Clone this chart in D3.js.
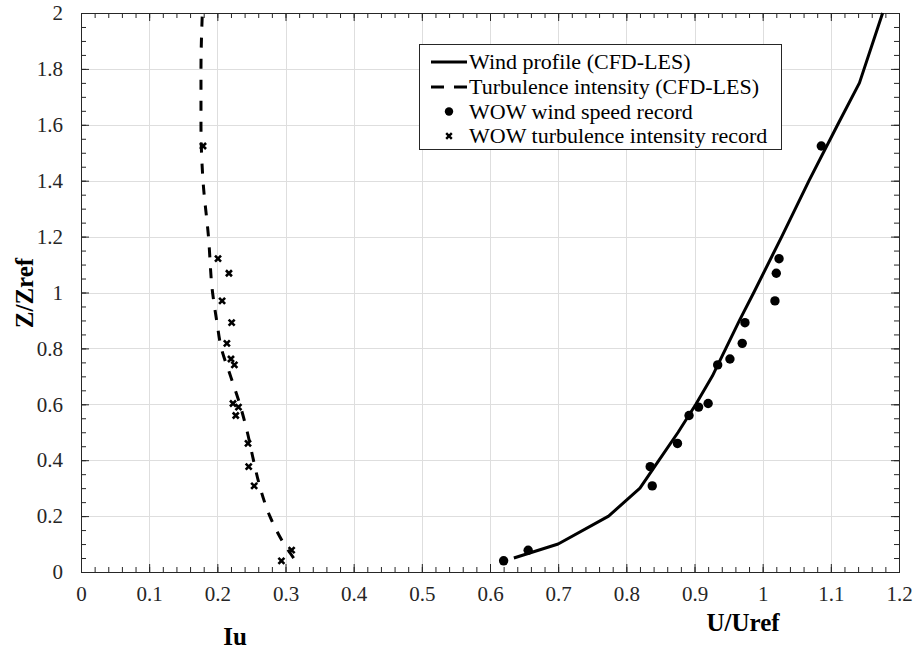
<!DOCTYPE html>
<html>
<head>
<meta charset="utf-8">
<script src="https://cdn.jsdelivr.net/npm/d3@7"></script>
<style>
  html, body { margin: 0; padding: 0; background: #fff; }
  text { font-family: "Liberation Serif" !important; }
</style>
</head>
<body>
<svg id="chart" width="917" height="650"></svg>
<script>
// Tick values
const xTicks = [0, 0.1, 0.2, 0.3, 0.4, 0.5, 0.6, 0.7, 0.8, 0.9, 1, 1.1, 1.2];
const yTicks = [0, 0.2, 0.4, 0.6, 0.8, 1, 1.2, 1.4, 1.6, 1.8, 2];

// CFD-LES wind profile (U/Uref vs Z/Zref)
const cfdHeight = [0.05, 0.1, 0.2, 0.3, 0.4, 0.5, 0.6, 0.7, 0.8, 0.9, 1.0, 1.2, 1.4, 1.6, 1.75, 2.0];
const cfdWind   = [0.635, 0.700, 0.774, 0.820, 0.848, 0.876, 0.902, 0.926, 0.946, 0.966, 0.987, 1.028, 1.068, 1.110, 1.142, 1.176];

// CFD-LES turbulence intensity profile
const cfdIuHeight = [0.05, 0.1, 0.2, 0.3, 0.4, 0.5, 0.6, 0.7, 0.8, 0.9, 1.0, 1.2, 1.4, 1.6, 1.8, 2.0];
const cfdIu       = [0.312, 0.298, 0.277, 0.263, 0.253, 0.244, 0.233, 0.2195, 0.206, 0.199, 0.193, 0.187, 0.179, 0.176, 0.176, 0.178];

// WOW station records
const wowHeight = [0.04, 0.078, 0.308, 0.377, 0.46, 0.56, 0.59, 0.603, 0.741, 0.762, 0.818, 0.892, 0.97, 1.069, 1.121, 1.524];
const wowWind   = [0.620, 0.656, 0.838, 0.835, 0.875, 0.892, 0.906, 0.920, 0.934, 0.952, 0.970, 0.974, 1.018, 1.020, 1.024, 1.086];
const wowIu     = [0.294, 0.309, 0.254, 0.246, 0.245, 0.227, 0.231, 0.223, 0.225, 0.220, 0.214, 0.221, 0.207, 0.217, 0.201, 0.179];

const legendLabels = [
  "Wind profile (CFD-LES)",
  "Turbulence intensity (CFD-LES)",
  "WOW wind speed record",
  "WOW turbulence intensity record"
];

const svg = d3.select("#chart");
const L = 81, R = 899, T = 13, B = 572;

const x = d3.scaleLinear().domain([0, 1.2]).range([L, R]);
const y = d3.scaleLinear().domain([0, 2]).range([B, T]);

// Grid
const grid = svg.append("g").attr("stroke", "#dedede").attr("stroke-width", 1);
grid.selectAll("line.gx").data(xTicks.slice(1, -1)).join("line")
  .attr("x1", d => Math.round(x(d)) + 0.5).attr("x2", d => Math.round(x(d)) + 0.5)
  .attr("y1", T).attr("y2", B);
grid.selectAll("line.gy").data(yTicks.slice(1, -1)).join("line")
  .attr("y1", d => Math.round(y(d)) + 0.5).attr("y2", d => Math.round(y(d)) + 0.5)
  .attr("x1", L).attr("x2", R);

// Axes: major ticks with labels, minor ticks without, all pointing inward
const xMinor = d3.range(0, 1.2001, 0.02);
const yMinor = d3.range(0, 2.0001, 0.05);

function styleAxis(g) {
  g.attr("font-family", "Liberation Serif").attr("font-size", 21);
  g.select(".domain").attr("stroke", "#262626").attr("stroke-width", 1);
  g.selectAll(".tick line").attr("stroke", "#262626").attr("stroke-width", 1);
  g.selectAll("text").attr("fill", "#262626");
}

svg.append("g").attr("transform", `translate(0,${B})`)
  .call(d3.axisBottom(x).tickValues(xMinor).tickSize(-5).tickFormat(""))
  .call(styleAxis);
svg.append("g").attr("transform", `translate(0,${B})`)
  .call(d3.axisBottom(x).tickValues(xTicks).tickSizeInner(-8).tickSizeOuter(0).tickPadding(14)
    .tickFormat(d3.format("~g")))
  .call(styleAxis);

svg.append("g").attr("transform", `translate(0,${T})`)
  .call(d3.axisTop(x).tickValues(xMinor).tickSize(-5).tickFormat(""))
  .call(styleAxis);
svg.append("g").attr("transform", `translate(0,${T})`)
  .call(d3.axisTop(x).tickValues(xTicks).tickSizeInner(-8).tickSizeOuter(0).tickFormat(""))
  .call(styleAxis);

svg.append("g").attr("transform", `translate(${L},0)`)
  .call(d3.axisLeft(y).tickValues(yMinor).tickSize(-5).tickFormat(""))
  .call(styleAxis);
svg.append("g").attr("transform", `translate(${L},0)`)
  .call(d3.axisLeft(y).tickValues(yTicks).tickSizeInner(-8).tickSizeOuter(0).tickPadding(18)
    .tickFormat(d3.format("~g")))
  .call(styleAxis);

svg.append("g").attr("transform", `translate(${R},0)`)
  .call(d3.axisRight(y).tickValues(yMinor).tickSize(-5).tickFormat(""))
  .call(styleAxis);
svg.append("g").attr("transform", `translate(${R},0)`)
  .call(d3.axisRight(y).tickValues(yTicks).tickSizeInner(-8).tickSizeOuter(0).tickFormat(""))
  .call(styleAxis);

// Profiles
const plot = svg.append("g");
const line = d3.line().x(d => x(d[0])).y(d => y(d[1]));

plot.append("path")
  .datum(cfdWind.map((v, i) => [v, cfdHeight[i]]))
  .attr("d", line).attr("fill", "none").attr("stroke", "#000")
  .attr("stroke-width", 3).attr("stroke-linejoin", "round");

plot.append("path")
  .datum(cfdIu.map((v, i) => [v, cfdIuHeight[i]]))
  .attr("d", line.curve(d3.curveMonotoneY)).attr("fill", "none").attr("stroke", "#000")
  .attr("stroke-width", 3).attr("stroke-dasharray", "10,11");

// Records
plot.selectAll("circle.wow").data(wowWind.map((v, i) => [v, wowHeight[i]])).join("circle")
  .attr("cx", d => x(d[0])).attr("cy", d => y(d[1])).attr("r", 4.7).attr("fill", "#000");

const cross = s => `M${-s},${-s}L${s},${s}M${-s},${s}L${s},${-s}`;
plot.selectAll("path.wowIu").data(wowIu.map((v, i) => [v, wowHeight[i]])).join("path")
  .attr("transform", d => `translate(${x(d[0])},${y(d[1])})`)
  .attr("d", cross(3)).attr("stroke", "#000").attr("stroke-width", 2.6).attr("fill", "none");

// Legend
const lg = svg.append("g").attr("font-family", "Liberation Serif");
lg.append("rect").attr("x", 419.5).attr("y", 44.5).attr("width", 362).attr("height", 105)
  .attr("fill", "#fff").attr("stroke", "#262626").attr("stroke-width", 1);
const rowY = [62, 87, 111.5, 136];
lg.append("line").attr("x1", 431).attr("x2", 467).attr("y1", rowY[0]).attr("y2", rowY[0])
  .attr("stroke", "#000").attr("stroke-width", 3);
lg.append("line").attr("x1", 431).attr("x2", 467).attr("y1", rowY[1]).attr("y2", rowY[1])
  .attr("stroke", "#000").attr("stroke-width", 3).attr("stroke-dasharray", "13,10");
lg.append("circle").attr("cx", 449).attr("cy", rowY[2]).attr("r", 4.2).attr("fill", "#000");
lg.append("path").attr("transform", `translate(449,${rowY[3]})`).attr("d", cross(2.8))
  .attr("stroke", "#000").attr("stroke-width", 2.4);
lg.selectAll("text").data(legendLabels).join("text")
  .attr("x", 469).attr("y", (d, i) => rowY[i] + 7)
  .attr("font-size", 22).attr("fill", "#000")
  .text(d => d);

// Axis titles
function title(sel) {
  return sel.attr("text-anchor", "middle")
    .attr("font-family", "Liberation Serif").attr("font-size", 25)
    .attr("font-weight", "bold").attr("fill", "#000");
}
svg.append("text").attr("x", 235).attr("y", 645).call(title).text("Iu");
svg.append("text").attr("x", 743).attr("y", 631).call(title).text("U/Uref");
svg.append("text").attr("transform", "translate(33,293) rotate(-90)").call(title).text("Z/Zref");
</script>
</body>
</html>
